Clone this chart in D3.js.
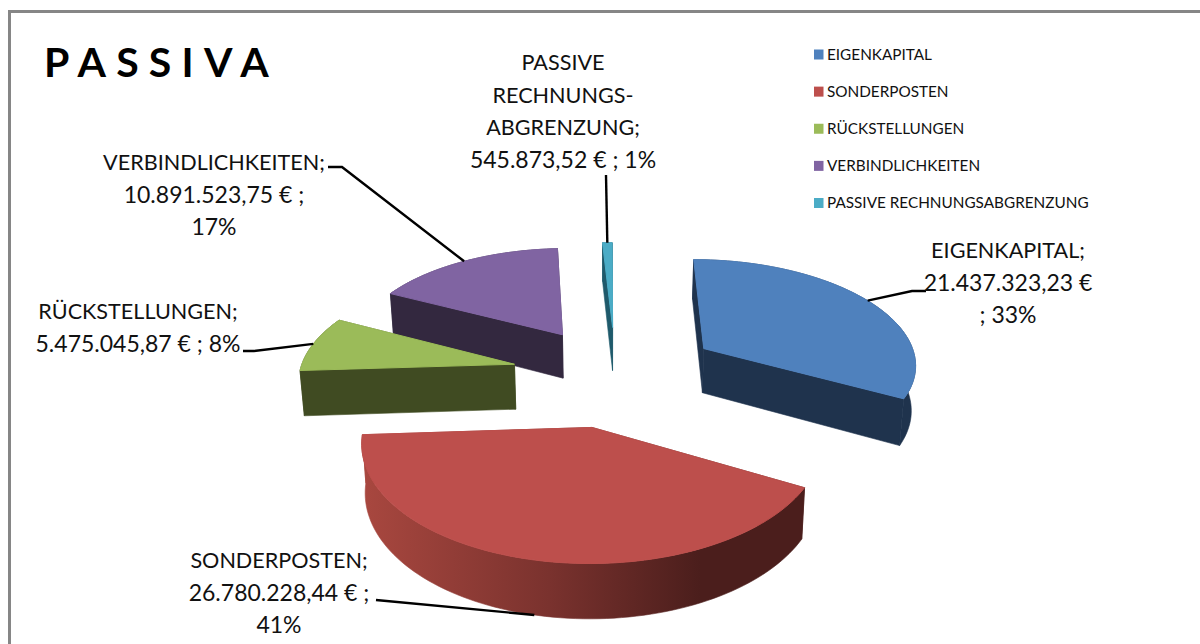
<!DOCTYPE html>
<html lang="de">
<head>
<meta charset="UTF-8">
<title>Passiva</title>
<style>
    html, body { margin: 0; padding: 0; background: #fff; overflow: hidden; }
    text { font-family: Lato, "Noto Sans", sans-serif; fill: #111; }
    .label { font-size: 21.6px; text-anchor: middle; }
    .label.num { font-size: 23px; }
    .legend text { font-size: 15.3px; }
    .title { font-size: 41px; font-weight: 700; letter-spacing: 10.2px; fill: #000; }
    .leader { fill: none; stroke: #000; stroke-width: 2.4; }
</style>
</head>
<body>
<script src="https://d3js.org/d3.v7.min.js"></script>
<script>
    // values
    var categories = ["EIGENKAPITAL", "SONDERPOSTEN", "RÜCKSTELLUNGEN", "VERBINDLICHKEITEN", "PASSIVE RECHNUNGSABGRENZUNG"];
    var amounts = [21437323.23, 26780228.44, 5475045.87, 10891523.75, 545873.52];
    var topColors = ["#4f81bd", "#bd4f4c", "#9bbb59", "#8064a2", "#4bacc6"];
    var wallColors = ["#1f334d", "url(#redWall)", "#404b22", "#33283f", "#1f5a6b"];

    // how excel wrapped each data label, {v} = amount, {p} = percent
    var labelLines = [
        ["EIGENKAPITAL;", "{v}", "; {p}"],
        ["SONDERPOSTEN;", "{v} ;", "{p}"],
        ["RÜCKSTELLUNGEN;", "{v} ; {p}"],
        ["VERBINDLICHKEITEN;", "{v} ;", "{p}"],
        ["PASSIVE", "RECHNUNGS-", "ABGRENZUNG;", "{v} ; {p}"]
    ];
    // label centre x, first baseline, then leader elbow and end
    var labelLayout = [
        {x: 1008, y: 258, elbow: [912, 291], end: [926, 291]},
        {x: 279, y: 568, elbow: [376, 600], end: [376, 600]},
        {x: 138, y: 319, elbow: [254, 351], end: [243, 351]},
        {x: 214, y: 170, elbow: [342, 167], end: [328, 167]},
        {x: 563, y: 70, elbow: [606, 175], end: [606, 175]}
    ];
    // how far each slice is pulled out of the pie
    var explodes = [0.493, 0.485, 0.485, 0.47, 0.47];

    var width = 1200, height = 644;

    var svg = d3.select("body").append("svg")
        .attr("width", width)
        .attr("height", height);

    var grad = svg.append("defs").append("linearGradient")
        .attr("id", "redWall")
        .attr("gradientUnits", "userSpaceOnUse")
        .attr("x1", 365).attr("x2", 700).attr("y1", 0).attr("y2", 0);
    grad.append("stop").attr("offset", 0).attr("stop-color", "#a8473f");
    grad.append("stop").attr("offset", 0.55).attr("stop-color", "#7a322e");
    grad.append("stop").attr("offset", 1).attr("stop-color", "#4b1e1c");

    // frame, cut off by the screenshot on the right and at the bottom
    svg.append("path")
        .attr("d", "M9.5," + height + "V11.5H" + width)
        .attr("fill", "none")
        .attr("stroke", "#868686")
        .attr("stroke-width", 3);

    svg.append("text").attr("class", "title").attr("x", 44).attr("y", 77).text("PASSIVA");

    // perspective of the excel 3d pie
    var horizonY = -500, vanishX = 608,
        xPerT = 0.246, invTBase = 0.0011436, invTPerZ = 0.000138,
        depthT = 0.052, depthShrink = 0.986;

    function project(X, Z, low) {
        var t = 1 / (invTBase + invTPerZ * Z);
        var x = vanishX + xPerT * X * t;
        var y = horizonY + t;
        if (low) {
            x = vanishX + (x - vanishX) * depthShrink;
            y += depthT * t;
        }
        return [x, y];
    }

    var centerX = 0.035;

    var total = d3.sum(amounts);
    var pie = d3.pie().sort(null).value(function(d) { return d; });
    var arcs = pie(amounts);

    var de = d3.formatLocale({decimal: ",", thousands: ".", grouping: [3], currency: ["", " €"]});
    var fmtValue = de.format(",.2f");

    var line = d3.line();

    var slices = arcs.map(function(a, i) {
        var mid = (a.startAngle + a.endAngle) / 2;
        var cx = centerX + explodes[i] * Math.sin(mid);
        var cz = explodes[i] * Math.cos(mid);
        var steps = Math.max(2, Math.ceil((a.endAngle - a.startAngle) / 0.03));
        var angles = d3.range(steps + 1).map(function(k) {
            return a.startAngle + (a.endAngle - a.startAngle) * k / steps;
        });
        function rim(ang, low) {
            return project(cx + Math.sin(ang), cz + Math.cos(ang), low);
        }
        return {i: i, cx: cx, cz: cz, mid: mid, angles: angles, rim: rim, a: a};
    });

    // far slices first
    var drawOrder = slices.slice().sort(function(p, q) { return q.cz - p.cz; });

    drawOrder.forEach(function(s) {
        var g = svg.append("g").attr("class", "slice");
        var apexTop = project(s.cx, s.cz, false),
            apexLow = project(s.cx, s.cz, true);
        var rimTop = s.angles.map(function(a) { return s.rim(a, false); });
        var rimLow = s.angles.map(function(a) { return s.rim(a, true); });

        var first = s.angles[0], last = s.angles[s.angles.length - 1];
        var faces = [
            {z: s.cz + Math.cos(first) / 2, pts: [apexTop, rimTop[0], rimLow[0], apexLow]},
            {z: s.cz + Math.cos(last) / 2, pts: [apexTop, rimTop[rimTop.length - 1], rimLow[rimLow.length - 1], apexLow]},
            {z: s.cz + Math.cos(s.mid) * 0.9, pts: rimTop.concat(rimLow.slice().reverse())}
        ];
        faces.sort(function(p, q) { return q.z - p.z; });
        faces.forEach(function(f) {
            // thin stroke closes the seam between the wall pieces
            g.append("path")
                .attr("d", line(f.pts) + "Z")
                .attr("fill", wallColors[s.i])
                .attr("stroke", wallColors[s.i])
                .attr("stroke-width", 0.6);
        });
        // the top gets the same stroke so no wall colour shows round its edge
        g.append("path")
            .attr("d", line([apexTop].concat(rimTop)) + "Z")
            .attr("fill", topColors[s.i])
            .attr("stroke", topColors[s.i])
            .attr("stroke-width", 1);
    });

    // data labels with leader lines
    slices.forEach(function(s) {
        var i = s.i;
        // the front slice's leader meets the bottom edge of its wall
        var start = s.rim(s.mid, Math.cos(s.mid) < -0.5);
        var lay = labelLayout[i];
        svg.append("path")
            .attr("class", "leader")
            .attr("d", line([start, lay.elbow, lay.end]));

        var pct = Math.round(s.a.value / total * 100) + "%";
        var val = fmtValue(s.a.value) + " €";
        svg.selectAll(null)
            .data(labelLines[i])
            .enter().append("text")
            .attr("class", function(d) { return d.indexOf("{") >= 0 ? "label num" : "label"; })
            .attr("x", lay.x)
            .attr("y", function(d, k) { return lay.y + k * 32.5; })
            .text(function(d) { return d.replace("{v}", val).replace("{p}", pct); });
    });

    // legend
    var legendY = d3.scalePoint().domain(categories).range([54.5, 203]);
    var legend = svg.append("g").attr("class", "legend");
    legend.selectAll("rect")
        .data(categories)
        .enter().append("rect")
        .attr("x", 814)
        .attr("y", function(d) { return legendY(d) - 5; })
        .attr("width", 9.5)
        .attr("height", 10)
        .attr("fill", function(d, i) { return topColors[i]; });
    legend.selectAll("text")
        .data(categories)
        .enter().append("text")
        .attr("x", 827)
        .attr("y", function(d) { return legendY(d) + 5; })
        .text(function(d) { return d; });
</script>
</body>
</html>
